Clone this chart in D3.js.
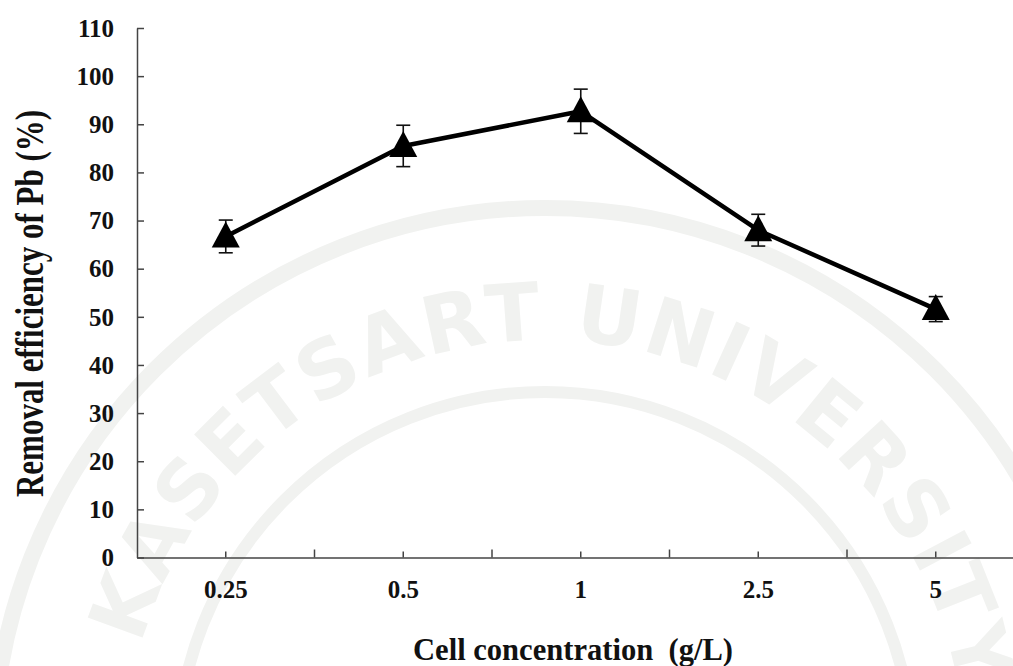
<!DOCTYPE html>
<html>
<head>
<meta charset="utf-8">
<script src="https://cdn.jsdelivr.net/npm/d3@7"></script>
<style>
  html, body { margin: 0; padding: 0; background: #fff; }
  svg { display: block; }
  text { font-family: "Liberation Serif", "Times New Roman", serif; font-weight: bold; }
</style>
</head>
<body>
<svg id="chart" width="1013" height="666"></svg>
<script>
// Pb removal efficiency at different cell concentrations
const categories = ["0.25", "0.5", "1", "2.5", "5"];
const removal = [66.7, 85.5, 92.7, 68.0, 51.6];
const errors = [3.4, 4.3, 4.6, 3.3, 2.6];
const yTicks = [0, 10, 20, 30, 40, 50, 60, 70, 80, 90, 100, 110];

const svg = d3.select("#chart");

const x = d3.scaleBand().domain(categories).range([137, 1024.5]).padding(0);
const y = d3.scaleLinear().domain([0, 110]).range([557.5, 28]);

// faint university seal in the background
const seal = svg.append("g").attr("fill", "none");
const cx = 545, cy = 760;
const sealColor = "#f1f2f0";
seal.append("circle").attr("cx", cx).attr("cy", cy).attr("r", 552)
  .attr("stroke", sealColor).attr("stroke-width", 16);
seal.append("circle").attr("cx", cx).attr("cy", cy).attr("r", 368)
  .attr("stroke", sealColor).attr("stroke-width", 12);
const rText = 420;
const toRad = deg => (deg - 90) * Math.PI / 180;
const arcPath = d3.path();
arcPath.arc(cx, cy, rText, toRad(-80), toRad(86), false);
seal.append("path").attr("id", "sealArc").attr("d", arcPath.toString());
seal.append("text")
  .attr("fill", sealColor)
  .style("font-family", "'DejaVu Sans', sans-serif")
  .style("font-weight", "bold")
  .attr("font-size", 80)
  .append("textPath")
  .attr("href", "#sealArc")
  .attr("startOffset", "50%")
  .attr("text-anchor", "middle")
  .attr("textLength", 1130)
  .attr("lengthAdjust", "spacing")
  .text("KASETSART UNIVERSITY");

// y axis
const yAxis = d3.axisLeft(y).tickValues(yTicks).tickSizeInner(-7).tickSizeOuter(0).tickPadding(23);
const gy = svg.append("g").attr("transform", `translate(${x.range()[0]},0)`).call(yAxis);
gy.select(".domain").attr("stroke", "#444").attr("stroke-width", 1.5);
gy.selectAll(".tick line").attr("stroke", "#444").attr("stroke-width", 1.5);
gy.selectAll(".tick text")
  .attr("font-size", 25).attr("fill", "#111")
  .style("font-family", "'Liberation Serif', serif").style("font-weight", "bold")
  .attr("dy", "0.33em");

// x axis: labels and minor ticks at category centres
const xAxis = d3.axisBottom(x).tickSizeInner(-6).tickSizeOuter(0);
const gx = svg.append("g").attr("transform", `translate(0,${y(0)})`).call(xAxis);
gx.select(".domain").attr("stroke", "#444").attr("stroke-width", 1.5);
gx.selectAll(".tick line").attr("stroke", "#444").attr("stroke-width", 1.5);
gx.selectAll(".tick text")
  .attr("font-size", 25).attr("fill", "#111")
  .style("font-family", "'Liberation Serif', serif").style("font-weight", "bold")
  .attr("y", 40).attr("dy", null);

// x axis: taller ticks at category boundaries
const bounds = categories.slice(1).map(c => x(c)).concat([x.range()[1]]);
gx.selectAll(".bound").data(bounds).join("line")
  .attr("class", "bound")
  .attr("x1", d => d).attr("x2", d => d)
  .attr("y1", 0).attr("y2", -8)
  .attr("stroke", "#444").attr("stroke-width", 1.5);

// axis titles
svg.append("text")
  .attr("x", 573).attr("y", 660)
  .attr("text-anchor", "middle")
  .attr("font-size", 32).attr("fill", "#111")
  .attr("textLength", 320).attr("lengthAdjust", "spacingAndGlyphs")
  .text("Cell concentration\u00a0 (g/L)");

svg.append("text")
  .attr("transform", "translate(43,303.5) rotate(-90)")
  .attr("text-anchor", "middle")
  .attr("font-size", 39).attr("fill", "#111")
  .attr("textLength", 387).attr("lengthAdjust", "spacingAndGlyphs")
  .text("Removal efficiency of Pb (%)");

// data
const pts = categories.map((c, i) => ({ c, v: removal[i], e: errors[i] }));
const cxp = d => x(d.c) + x.bandwidth() / 2;

// error bars
const eb = svg.append("g").attr("stroke", "#111").attr("stroke-width", 1.6);
eb.selectAll(".stem").data(pts).join("line")
  .attr("x1", cxp).attr("x2", cxp)
  .attr("y1", d => y(d.v + d.e)).attr("y2", d => y(d.v - d.e));
eb.selectAll(".capT").data(pts).join("line")
  .attr("x1", d => cxp(d) - 7).attr("x2", d => cxp(d) + 7)
  .attr("y1", d => y(d.v + d.e)).attr("y2", d => y(d.v + d.e));
eb.selectAll(".capB").data(pts).join("line")
  .attr("x1", d => cxp(d) - 7).attr("x2", d => cxp(d) + 7)
  .attr("y1", d => y(d.v - d.e)).attr("y2", d => y(d.v - d.e));

// connecting line
const line = d3.line().x(cxp).y(d => y(d.v));
svg.append("path").datum(pts)
  .attr("d", line)
  .attr("fill", "none").attr("stroke", "#000").attr("stroke-width", 4.5)
  .attr("stroke-linejoin", "round");

// triangle markers
const tri = "M0,-15L14,11L-14,11Z";
svg.selectAll(".marker").data(pts).join("path")
  .attr("class", "marker")
  .attr("d", tri)
  .attr("transform", d => `translate(${cxp(d)},${y(d.v)})`)
  .attr("fill", "#000");
</script>
</body>
</html>
